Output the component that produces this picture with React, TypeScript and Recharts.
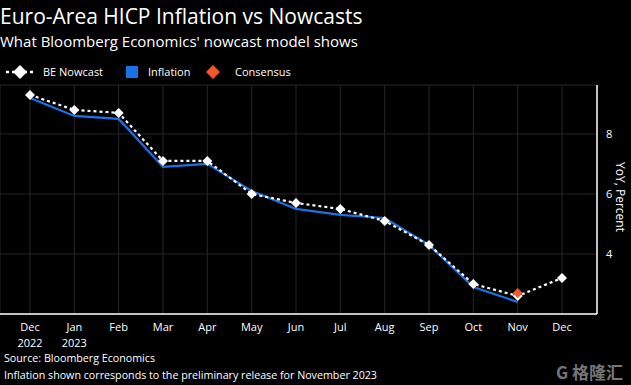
import React from 'react';
import { LineChart, Line, XAxis, YAxis, CartesianGrid } from 'recharts';

const months = ['Dec', 'Jan', 'Feb', 'Mar', 'Apr', 'May', 'Jun', 'Jul', 'Aug', 'Sep', 'Oct', 'Nov', 'Dec'];
const years = ['2022', '2023', '', '', '', '', '', '', '', '', '', '', ''];
const nowcast = [9.3, 8.8, 8.7, 7.1, 7.1, 6.0, 5.7, 5.5, 5.1, 4.3, 3.0, 2.6, 3.2];
const inflation: (number | null)[] = [9.2, 8.6, 8.5, 6.9, 7.0, 6.1, 5.5, 5.3, 5.2, 4.3, 2.9, 2.4, null];
const consensus: (number | null)[] = [null, null, null, null, null, null, null, null, null, null, null, 2.7, null];
const yTicks = [4, 6, 8];

const data = months.map((m, i) => ({
  idx: i,
  nowcast: nowcast[i],
  inflation: inflation[i],
  consensus: consensus[i],
}));

const FONT = '"Open Sans", sans-serif';
const BLUE = '#1a72e6';
const ORANGE = '#f4572a';

const Diamond = (color: string, r: number) => (props: any) => {
  const { cx, cy, value } = props;
  if (value == null || cx == null || cy == null) return null;
  return (
    <path
      key={`d-${cx}-${cy}`}
      d={`M${cx},${cy - r} L${cx + r},${cy} L${cx},${cy + r} L${cx - r},${cy} Z`}
      fill={color}
    />
  );
};

const XTick = (props: any) => {
  const { x, y, payload } = props;
  const i = payload.value as number;
  return (
    <g>
      <text x={x} y={y + 9} textAnchor="middle" fill="#fff" fontSize={11} fontFamily={FONT}>
        {months[i]}
      </text>
      {years[i] ? (
        <text x={x} y={y + 25} textAnchor="middle" fill="#fff" fontSize={11} fontFamily={FONT}>
          {years[i]}
        </text>
      ) : null}
    </g>
  );
};

export default function App() {
  return (
    <div
      style={{
        position: 'fixed',
        left: 0,
        top: 0,
        width: 631,
        height: 385,
        background: '#000',
        fontFamily: FONT,
        color: '#fff',
        overflow: 'hidden',
      }}
    >
      <div style={{ position: 'absolute', left: 0, top: 3, fontSize: 21, lineHeight: '26px', whiteSpace: 'nowrap' }}>
        Euro-Area HICP Inflation vs Nowcasts
      </div>
      <div style={{ position: 'absolute', left: 0, top: 31, fontSize: 15, lineHeight: '20px', whiteSpace: 'nowrap' }}>
        What Bloomberg Economics' nowcast model shows
      </div>
      {/* Legend */}
      <svg style={{ position: 'absolute', left: 0, top: 62 }} width={300} height={20}>
        <line x1={6} y1={10} x2={34} y2={10} stroke="#fff" strokeWidth={2.5} strokeDasharray="3 3" />
        <path d="M20,3 L27,10 L20,17 L13,10 Z" fill="#fff" />
        <text x={43} y={14} fill="#fff" fontSize={11} fontFamily={FONT}>BE Nowcast</text>
        <rect x={126} y={4} width={12} height={12} fill={BLUE} />
        <text x={148} y={14} fill="#fff" fontSize={11} fontFamily={FONT}>Inflation</text>
        <path d="M213,3 L220,10 L213,17 L206,10 Z" fill={ORANGE} />
        <text x={235} y={14} fill="#fff" fontSize={11} fontFamily={FONT}>Consensus</text>
      </svg>
      <div style={{ position: 'absolute', left: 0, top: 0 }}>
        <LineChart
          width={631}
          height={385}
          data={data}
          margin={{ top: 85, right: 0, left: 0, bottom: 0 }}
        >
          <CartesianGrid stroke="#262626" strokeWidth={1} />
          <XAxis
            dataKey="idx"
            type="category"
            axisLine={{ stroke: '#fff', strokeWidth: 1.5 }}
            tickLine={false}
            tick={<XTick />}
            interval={0}
            padding={{ left: 30, right: 35 }}
            height={71}
          />
          <YAxis
            orientation="right"
            domain={[2, 9.63]}
            ticks={yTicks}
            axisLine={{ stroke: '#fff', strokeWidth: 1.5 }}
            tickLine={false}
            tick={{ fill: '#fff', fontSize: 11, fontFamily: FONT, textAnchor: 'start' }}
            tickMargin={3}
            width={34}
            allowDataOverflow
          />
          <Line
            dataKey="inflation"
            stroke={BLUE}
            strokeWidth={2.2}
            dot={false}
            isAnimationActive={false}
            connectNulls={false}
          />
          <Line
            dataKey="nowcast"
            stroke="#fff"
            strokeWidth={2.2}
            strokeDasharray="3 3"
            dot={Diamond('#fff', 5)}
            activeDot={false}
            isAnimationActive={false}
          />
          <Line
            dataKey="consensus"
            stroke="none"
            dot={Diamond(ORANGE, 5)}
            activeDot={false}
            isAnimationActive={false}
          />
        </LineChart>
      </div>
      <div
        style={{
          position: 'absolute',
          left: 620,
          top: 197,
          transform: 'translate(-50%, -50%) rotate(90deg)',
          fontSize: 12,
          whiteSpace: 'nowrap',
        }}
      >
        YoY, Percent
      </div>
      <div style={{ position: 'absolute', left: 4, top: 351, fontSize: 10.7, lineHeight: '15px', whiteSpace: 'nowrap' }}>
        Source: Bloomberg Economics
      </div>
      <div style={{ position: 'absolute', left: 4, top: 368, fontSize: 10.7, lineHeight: '15px', whiteSpace: 'nowrap' }}>
        Inflation shown corresponds to the preliminary release for November 2023
      </div>
      <div
        style={{
          position: 'absolute',
          left: 556,
          top: 359,
          fontSize: 17,
          color: '#8a8a8a',
          fontFamily: '"Noto Sans CJK SC", sans-serif',
          fontWeight: 700,
          whiteSpace: 'nowrap',
          opacity: 0.85,
        }}
      >
        G 格隆汇
      </div>
    </div>
  );
}
